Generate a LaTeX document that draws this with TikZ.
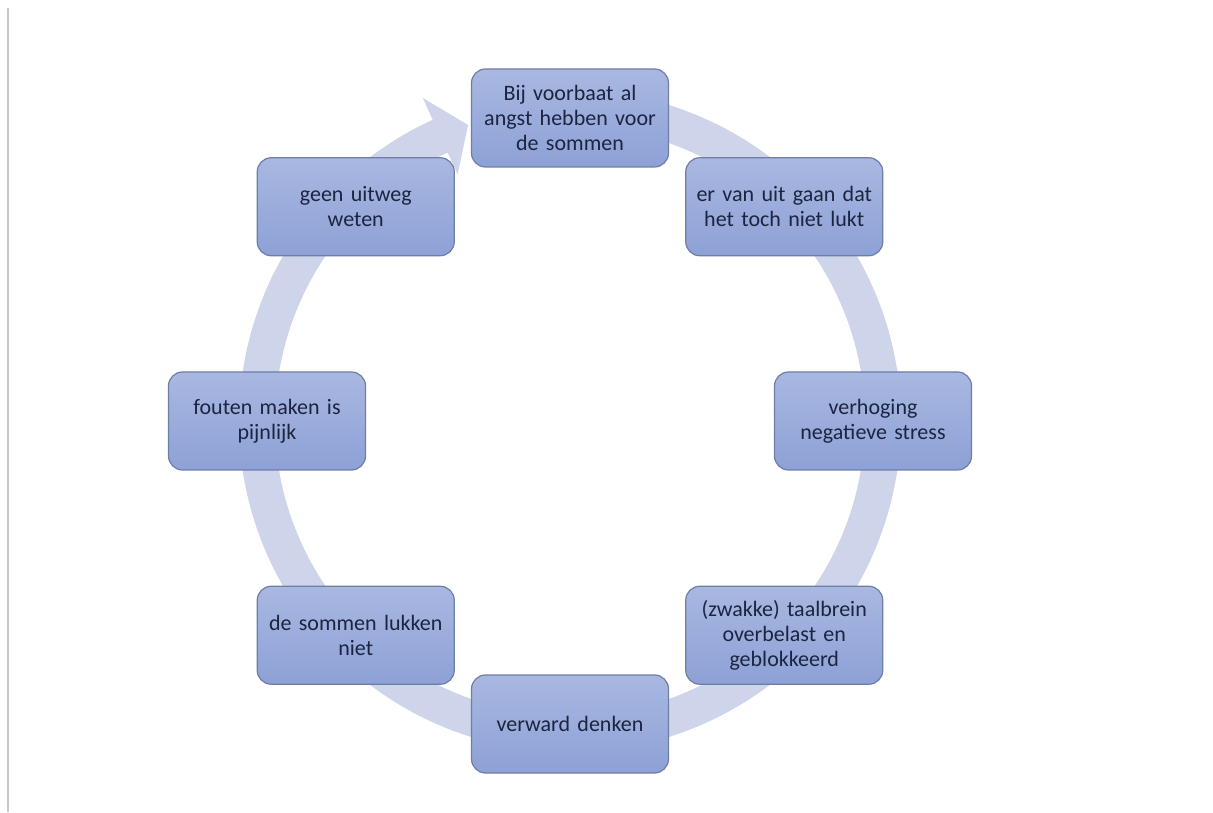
\documentclass[tikz,border=0pt]{standalone}
\usepackage{fontspec}
\setmainfont{Carlito}
\definecolor{boxtop}{HTML}{A9B8E1}
\definecolor{boxbot}{HTML}{8DA1D6}
\definecolor{boxline}{HTML}{6F7EA6}
\definecolor{txt}{HTML}{1B2440}
\definecolor{bandcol}{HTML}{CED4EA}
\definecolor{edgegray}{HTML}{C8C8C8}
\begin{document}
\begin{tikzpicture}[x=1pt,y=1pt,
  stepbox/.style={draw=boxline, line width=1.2pt, rounded corners=14pt,
    top color=boxtop, bottom color=boxbot,
    minimum width=197pt, minimum height=98pt, text width=185pt,
    align=center, text=txt, font=\fontsize{22}{25}\selectfont, inner sep=0pt},
  band/.style={draw=bandcol, line width=36pt},
  head/.style={fill=bandcol}]
\useasboundingbox (0,0) rectangle (1213,812);
\fill[white] (0,0) rectangle (1213,812);
\draw[edgegray, line width=2pt] (8,0) -- (8,804);
\coordinate (c) at (570,391);
% cycle arrow
\draw[band] ([shift={(80:313)}]c) arc[start angle=80, end angle=-246, radius=313];
\fill[head] ([shift={(114.5:355)}]c) -- ([shift={(109:313)}]c) -- ([shift={(114.5:271)}]c) -- cycle;
% nodes
\node[stepbox] (n1) at ([shift={(90:303)}]c) {Bij voorbaat al\\angst hebben voor\\de sommen};
\node[stepbox] (n2) at ([shift={(45:303)}]c) {er van uit gaan dat\\het toch niet lukt};
\node[stepbox] (n3) at ([shift={(0:303)}]c) {verhoging\\negatieve stress};
\node[stepbox] (n4) at ([shift={(-45:303)}]c) {(zwakke) taalbrein\\overbelast en\\geblokkeerd};
\node[stepbox] (n5) at ([shift={(-90:303)}]c) {verward denken};
\node[stepbox] (n6) at ([shift={(-135:303)}]c) {de sommen lukken\\niet};
\node[stepbox] (n7) at ([shift={(180:303)}]c) {fouten maken is\\pijnlijk};
\node[stepbox] (n8) at ([shift={(135:303)}]c) {geen uitweg\\weten};
\end{tikzpicture}
\end{document}
